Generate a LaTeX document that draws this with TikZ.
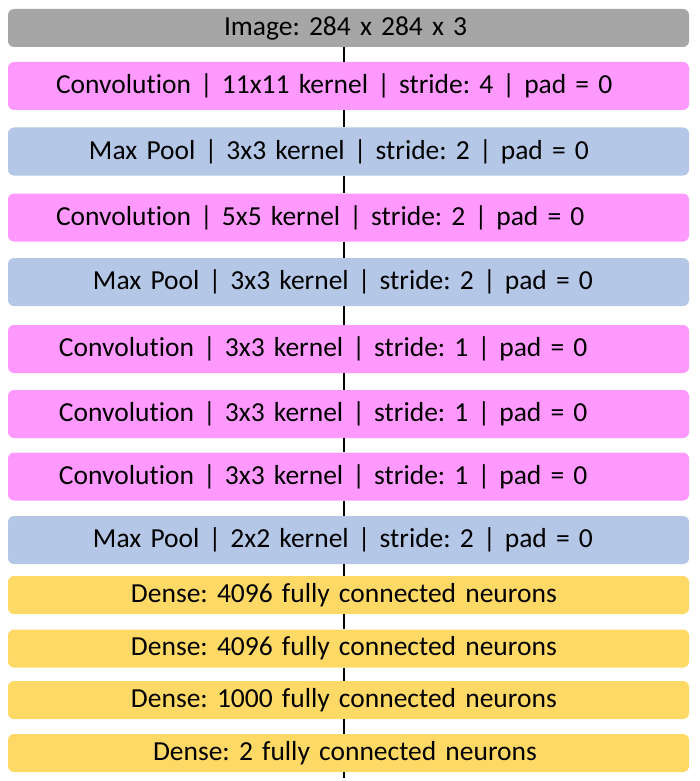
\documentclass[tikz,border=0pt]{standalone}
\usepackage{fontspec}
\setmainfont{Carlito}[Ligatures=NoCommon]
\frenchspacing
\usepackage{tikz}
\definecolor{imggray}{HTML}{A6A6A6}
\definecolor{convpink}{HTML}{FF99FF}
\definecolor{poolblue}{HTML}{B4C7E7}
\definecolor{densegold}{HTML}{FFD966}
\tikzstyle{layer} = [rectangle, rounded corners=6pt, text width=681pt, inner xsep=0pt, inner ysep=0pt, align=left, font=\fontsize{27.5}{31}\selectfont]
\tikzstyle{imgbox} = [layer, fill=imggray, minimum height=38pt]
\tikzstyle{convbox} = [layer, fill=convpink, minimum height=48pt]
\tikzstyle{poolbox} = [layer, fill=poolblue, minimum height=48pt]
\tikzstyle{densebox} = [layer, fill=densegold, minimum height=38pt]
\tikzstyle{link} = [line width=2pt]

\begin{document}
\begin{tikzpicture}[x=1pt,y=-1pt]
		\useasboundingbox (0,0) rectangle (699,781);
		\node [imgbox] (img) at (348.5,28) {\hspace*{216pt}Image: 284 x 284 x 3};
		\node [convbox] (conv1) at (348.5,86) {\hspace*{48pt}Convolution | 11x11 kernel | stride: 4 | pad = 0};
		\node [poolbox] (pool1) at (348.5,151.5) {\hspace*{81pt}Max Pool | 3x3 kernel | stride: 2 | pad = 0};
		\node [convbox] (conv2) at (348.5,217.5) {\hspace*{48pt}Convolution | 5x5 kernel | stride: 2 | pad = 0};
		\node [poolbox] (pool2) at (348.5,282) {\hspace*{85pt}Max Pool | 3x3 kernel | stride: 2 | pad = 0};
		\node [convbox] (conv3) at (348.5,349) {\hspace*{51pt}Convolution | 3x3 kernel | stride: 1 | pad = 0};
		\node [convbox] (conv4) at (348.5,414) {\hspace*{51pt}Convolution | 3x3 kernel | stride: 1 | pad = 0};
		\node [convbox] (conv5) at (348.5,476.5) {\hspace*{51pt}Convolution | 3x3 kernel | stride: 1 | pad = 0};
		\node [poolbox] (pool3) at (348.5,540) {\hspace*{85pt}Max Pool | 2x2 kernel | stride: 2 | pad = 0};
		\node [densebox] (dense1) at (348.5,595) {\hspace*{123pt}Dense: 4096 fully connected neurons};
		\node [densebox] (dense2) at (348.5,648.5) {\hspace*{123pt}Dense: 4096 fully connected neurons};
		\node [densebox] (dense3) at (348.5,700) {\hspace*{123pt}Dense: 1000 fully connected neurons};
		\node [densebox] (dense4) at (348.5,753) {\hspace*{145pt}Dense: 2 fully connected neurons};
		% spine through the gaps
		\foreach \a/\b in {img/conv1, conv1/pool1, pool1/conv2, conv2/pool2, pool2/conv3, conv3/conv4, conv4/conv5, conv5/pool3, pool3/dense1, dense1/dense2, dense2/dense3, dense3/dense4}
			\draw [link] ([xshift=-5pt]\a.south) -- ([xshift=-5pt]\b.north);
		\coordinate (tail) at (343.5,778);
		\draw [link] ([xshift=-5pt]dense4.south) -- (tail);
	\end{tikzpicture}
\end{document}
